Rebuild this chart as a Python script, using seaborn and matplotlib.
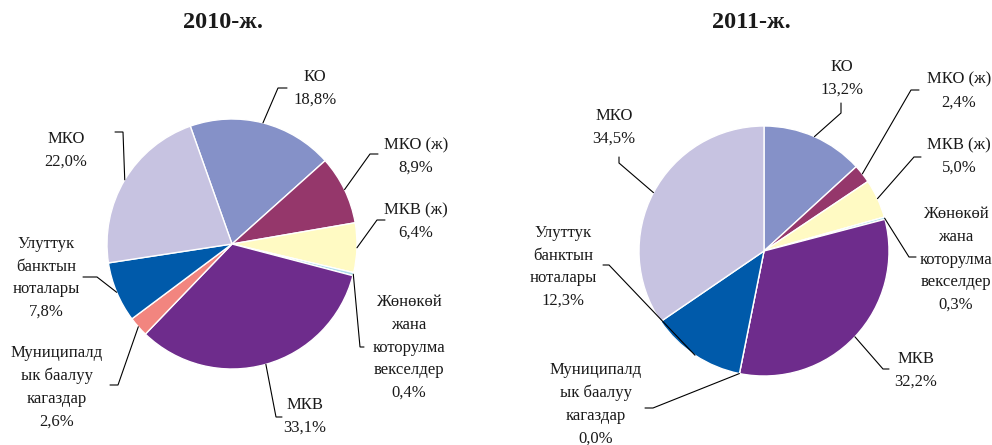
import numpy as np
import matplotlib
matplotlib.use('Agg')
import matplotlib.pyplot as plt
import seaborn as sns

# --- data ---
categories = ["КО", "МКО (ж)", "МКВ (ж)",
              "Жөнөкөй\nжана\nкоторулма\nвекселдер", "МКВ",
              "Муниципалд\nык баалуу\nкагаздар",
              "Улуттук\nбанктын\nноталары", "МКО"]
share_2010 = [18.8, 8.9, 6.4, 0.4, 33.1, 2.6, 7.8, 22.0]
share_2011 = [13.2, 2.4, 5.0, 0.3, 32.2, 0.0, 12.3, 34.5]
titles = ["2010-ж.", "2011-ж."]
slice_colors = ["#8591C8", "#95376B", "#FFFAC3", "#ABDCEB",
                "#6E2C8C", "#F2857F", "#005AAA", "#C7C3E1"]

# --- layout (pixel coordinates, y from top) ---
W, H = 992, 445
pie_centers = [(232, 244), (764, 251)]
pie_radius = 125
start_angles = [109.5, 90]
title_pos = [(223, 22), (751, 22)]
# text centre, elbow of leader line, end of leader line
label_layout = [
    [((315, 88.5), (278, 88), (287, 88)),
     ((416, 156.5), (370, 154), (378, 154)),
     ((416, 221.5), (377, 220), (385, 220)),
     ((409, 347.5), (360, 347), (364, 347)),
     ((305, 416.5), (276, 417), (282, 417)),
     ((57, 387), (118, 385), (110, 385)),
     ((46, 278), (97, 277), (83, 277)),
     ((66, 150), (123, 132), (115, 132))],
    [((842, 78.5), (841, 113), (841, 103)),
     ((959, 91), (911, 90), (919, 90)),
     ((959, 156.5), (914, 157), (921, 157)),
     ((956, 259.5), (909, 257), (916, 257)),
     ((916, 370.5), (883, 369), (889, 369)),
     ((596, 404), (653, 408), (645, 408)),
     ((563, 267), (609, 265), (603, 265)),
     ((614, 127.5), (619, 163), (619, 157))],
]

sns.set_theme(style="white")
plt.rcParams['font.family'] = ['Liberation Serif', 'DejaVu Serif']

fig = plt.figure(figsize=(W / 100, H / 100), dpi=100)
ax = fig.add_axes([0, 0, 1, 1])


def fy(y):
    return H - y


for shares, (cx, cy), start, layout, title, tpos in zip(
        [share_2010, share_2011], pie_centers, start_angles,
        label_layout, titles, title_pos):
    wedges, _ = ax.pie(shares, colors=slice_colors, startangle=start,
                       counterclock=False, center=(cx, fy(cy)),
                       radius=pie_radius, frame=True)
    for w, name, val, (tc, elbow, end) in zip(wedges, categories, shares, layout):
        # leader line starts on the rim at the wedge's mid angle
        mid = np.deg2rad((w.theta1 + w.theta2) / 2)
        sx = cx + pie_radius * np.cos(mid)
        sy = fy(cy) + pie_radius * np.sin(mid)
        ax.plot([sx, elbow[0], end[0]], [sy, fy(elbow[1]), fy(end[1])],
                color='black', lw=0.8, solid_joinstyle='miter')
        txt = name + "\n" + f"{val:.1f}%".replace('.', ',')
        ax.text(tc[0], fy(tc[1]), txt, ha='center', va='center',
                fontsize=12, linespacing=1.55, color='#1a1a1a')
    ax.text(tpos[0], fy(tpos[1]), title, ha='center', va='center',
            fontsize=17.5, fontweight='bold', color='#1a1a1a')

ax.set_xlim(0, W)
ax.set_ylim(0, H)
ax.set_aspect('equal')
ax.axis('off')

fig.savefig('out.png', dpi=100)
